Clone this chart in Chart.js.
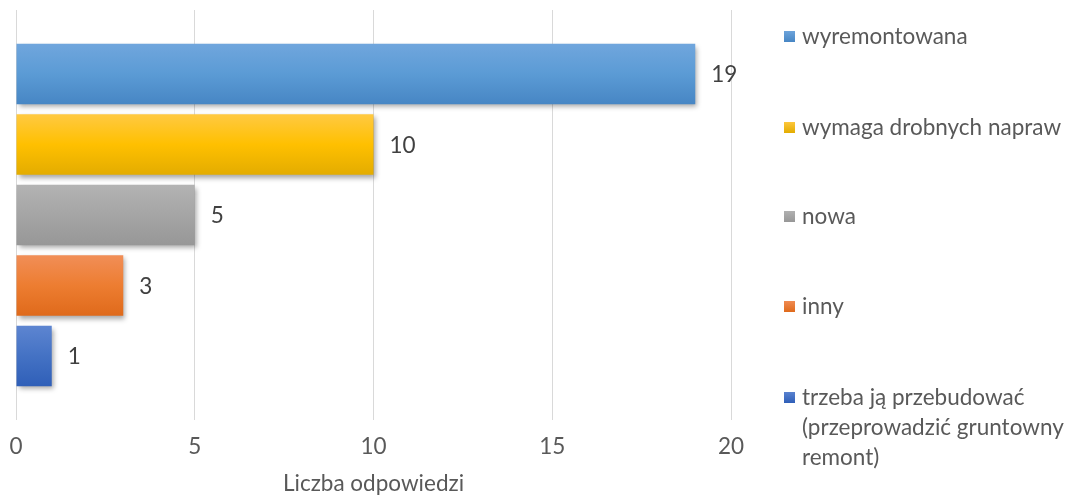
<!DOCTYPE html>
<html>
<head>
<meta charset="utf-8">
<script src="https://cdn.jsdelivr.net/npm/chart.js@4/dist/chart.umd.min.js"></script>
<style>
  html, body { margin: 0; padding: 0; background: #fff; }
  #wrap { width: 1069px; height: 497px; position: relative; }
</style>
</head>
<body>
<div id="wrap"><canvas id="chart"></canvas></div>
<script>
const categories = ['wyremontowana', 'wymaga drobnych napraw', 'nowa', 'inny',
  ['trzeba ją przebudować', '(przeprowadzić gruntowny', 'remont)']];
const values = [19, 10, 5, 3, 1];
const xTicks = [0, 5, 10, 15, 20];
const axisTitle = 'Liczba odpowiedzi';

// top / middle / bottom colours of each bar gradient
const shades = [
  ['#70a6dd', '#5b9bd5', '#4786c4'],
  ['#ffc942', '#ffc000', '#e3ac00'],
  ['#b3b3b3', '#a5a5a5', '#979797'],
  ['#f18e57', '#ed7d31', '#df6a1b'],
  ['#5d85d1', '#4472c4', '#2f5fb8']
];

const FONT = 'Lato, sans-serif';
const SIZE = 22.5;
const TEXT = '#595959';

const datasets = categories.map((c, i) => ({
  label: Array.isArray(c) ? c.join(' ') : c,
  data: [values[i]],
  backgroundColor: shades[i][1],
  borderWidth: 0,
  categoryPercentage: 0.86,
  barPercentage: 0.857
}));

const gradientPlugin = {
  id: 'gradients',
  afterDatasetsUpdate(chart) {
    const ctx = chart.ctx;
    chart.data.datasets.forEach((ds, i) => {
      chart.getDatasetMeta(i).data.forEach(bar => {
        const top = bar.y - bar.height / 2;
        const g = ctx.createLinearGradient(0, top, 0, top + bar.height);
        g.addColorStop(0, shades[i][0]);
        g.addColorStop(0.5, shades[i][1]);
        g.addColorStop(1, shades[i][2]);
        bar.options = Object.assign({}, bar.options, {backgroundColor: g});
      });
    });
  },
  beforeDatasetsDraw(chart) {
    const ctx = chart.ctx;
    ctx.save();
    ctx.shadowColor = 'rgba(0,0,0,0.35)';
    ctx.shadowBlur = 5;
    ctx.shadowOffsetX = 2;
    ctx.shadowOffsetY = 3;
  },
  afterDatasetsDraw(chart) {
    const ctx = chart.ctx;
    ctx.restore();
    ctx.save();
    ctx.font = SIZE + 'px ' + FONT;
    ctx.fillStyle = '#404040';
    ctx.textBaseline = 'middle';
    chart.data.datasets.forEach((ds, i) => {
      chart.getDatasetMeta(i).data.forEach((bar, j) => {
        ctx.fillText(String(ds.data[j]), bar.x + 16, bar.y + 1);
      });
    });
    ctx.restore();
  }
};

const legendPlugin = {
  id: 'sideLegend',
  afterDraw(chart) {
    const ctx = chart.ctx;
    const rows = [36, 127, 216, 306, 397];
    ctx.save();
    ctx.font = SIZE + 'px ' + FONT;
    ctx.textBaseline = 'middle';
    categories.forEach((c, i) => {
      const lines = Array.isArray(c) ? c : [c];
      const g = ctx.createLinearGradient(0, rows[i] - 6, 0, rows[i] + 6);
      g.addColorStop(0, shades[i][0]);
      g.addColorStop(1, shades[i][2]);
      ctx.fillStyle = g;
      ctx.fillRect(784, rows[i] - 5, 11, 11);
      ctx.fillStyle = TEXT;
      lines.forEach((ln, k) => ctx.fillText(ln, 802, rows[i] + 1 + k * 30));
    });
    ctx.restore();
  }
};

new Chart(document.getElementById('chart'), {
  type: 'bar',
  data: {labels: [''], datasets: datasets},
  options: {
    indexAxis: 'y',
    responsive: true,
    maintainAspectRatio: false,
    animation: false,
    layout: {padding: {left: 16, right: 338, top: 10, bottom: 0}},
    plugins: {legend: {display: false}, tooltip: {enabled: false}},
    scales: {
      y: {display: false},
      x: {
        min: 0, max: 20,
        afterBuildTicks(axis) { axis.ticks = xTicks.map(v => ({value: v})); },
        grid: {color: '#d9d9d9', lineWidth: 1, drawTicks: true,
          tickLength: 13, tickColor: 'rgba(0,0,0,0)'},
        border: {display: false},
        ticks: {color: TEXT, font: {family: FONT, size: SIZE}, padding: 0},
        title: {display: true, text: axisTitle, color: TEXT,
          font: {family: FONT, size: SIZE}, padding: {top: 10, bottom: 0}}
      }
    }
  },
  plugins: [gradientPlugin, legendPlugin]
});
</script>
</body>
</html>
